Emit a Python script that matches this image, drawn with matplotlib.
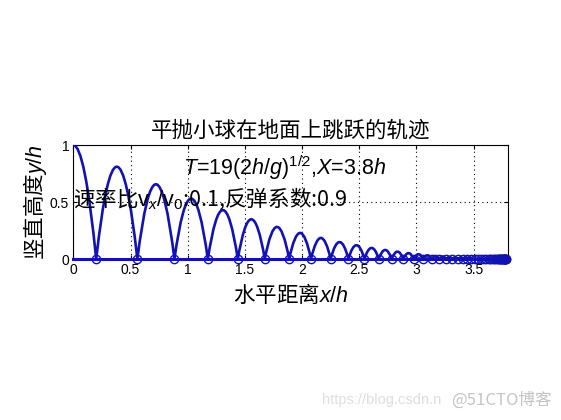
import matplotlib
matplotlib.use("Agg")
import matplotlib.pyplot as plt
from matplotlib.path import Path
from matplotlib.patches import PathPatch

# ---- data ----
start_height = 1.0
landing_x = [0.200, 0.560, 0.884, 1.176, 1.438, 1.674, 1.887, 2.078, 2.250, 2.405,
             2.545, 2.670, 2.783, 2.885, 2.976, 3.059, 3.133, 3.200, 3.260, 3.314,
             3.362, 3.406, 3.445, 3.481, 3.513, 3.542, 3.567, 3.591, 3.612, 3.630,
             3.647, 3.663, 3.676, 3.689, 3.700, 3.710, 3.719, 3.727, 3.734, 3.741,
             3.747, 3.752, 3.757, 3.761, 3.765, 3.769, 3.772, 3.775, 3.777, 3.779,
             3.781]
peak_heights = [0.810, 0.656, 0.531, 0.430, 0.349, 0.282, 0.229, 0.185, 0.150, 0.122,
                0.098, 0.080, 0.065, 0.052, 0.042, 0.034, 0.028, 0.023, 0.018, 0.015,
                0.012, 0.010, 0.008, 0.006, 0.005, 0.004, 0.003, 0.003, 0.002, 0.002]
x_ticks = [0, 0.5, 1, 1.5, 2, 2.5, 3, 3.5]
x_tick_labels = ["0", "0.5", "1", "1.5", "2", "2.5", "3", "3.5"]
y_ticks = [0, 0.5, 1]
y_tick_labels = ["0", "0.5", "1"]
x_max = 3.8

title = "平抛小球在地面上跳跃的轨迹"
xlabel = "水平距离$x/h$"
ylabel = "竖直高度$y/h$"
note1 = r"$T$=19(2$h$/$g$)$^{1/2}$,$X$=3.8$h$"
note2 = r"速率比$\mathrm{v}_{x}/\mathrm{v}_{0}$:0.1,反弹系数:0.9"

# ---- style ----
plt.rcParams['font.family'] = ['Liberation Sans', 'Noto Sans CJK SC', 'DejaVu Sans']
plt.rcParams['mathtext.fontset'] = 'custom'
plt.rcParams['mathtext.rm'] = 'Liberation Sans'
plt.rcParams['mathtext.it'] = 'Liberation Sans:italic'
plt.rcParams['mathtext.bf'] = 'Liberation Sans:bold'
cjk = ['Noto Sans CJK SC']

blue = '#1212b4'
fig = plt.figure(figsize=(5.61, 4.2), dpi=100)
ax = fig.add_axes([0.1307, 0.3833, 0.7748, 0.2714])

# first half-arc from the release point to the first landing
verts = [(0, start_height), (landing_x[0] / 2, start_height), (landing_x[0], 0)]
codes = [Path.MOVETO, Path.CURVE3, Path.CURVE3]
# bounce arcs: parabolas between consecutive landings (quadratic Bezier)
for i, h in enumerate(peak_heights):
    a, b = landing_x[i], landing_x[i + 1]
    verts += [((a + b) / 2, 2 * h), (b, 0)]
    codes += [Path.CURVE3, Path.CURVE3]
ax.add_patch(PathPatch(Path(verts, codes), fill=False, edgecolor=blue, lw=1.9,
                       joinstyle='round', capstyle='round', zorder=3))

# ground line with circle markers at landing points
ax.plot([0] + landing_x + [x_max], [0] * (len(landing_x) + 2), color=blue, lw=2.2,
        zorder=3, clip_on=False)
ax.plot(landing_x, [0] * len(landing_x), linestyle='none', marker='o', ms=6,
        mfc='none', mec=blue, mew=1.0, zorder=4, clip_on=False)

ax.set_xlim(0, x_max)
ax.set_ylim(0, 1)
ax.set_xticks(x_ticks)
ax.set_xticklabels(x_tick_labels)
ax.set_yticks(y_ticks)
ax.set_yticklabels(y_tick_labels)
ax.tick_params(direction='in', top=True, right=True, length=3, labelsize=10, pad=3)
ax.grid(True, linestyle=(0, (1, 3)), color='black', lw=0.8)
for s in ax.spines.values():
    s.set_linewidth(0.8)

ax.set_title(title, fontsize=15.5, pad=6, family=cjk)
ax.set_xlabel(xlabel, fontsize=15.5, labelpad=4, family=cjk)
ax.set_ylabel(ylabel, fontsize=15.5, labelpad=1, family=cjk)

ax.text(0.96, 0.80, note1, fontsize=15.5, va='center', ha='left')
ax.text(0.0, 0.53, note2, fontsize=15.5, va='center', ha='left', family=cjk)

# watermark
fig.text(322 / 561, 1 - 400 / 420, "https://blog.csdn.n", fontsize=10.5,
         color='#dedede', va='center', ha='left')
fig.text(552 / 561, 1 - 400 / 420, "@51CTO博客", fontsize=12, color='#c4c4c4',
         va='center', ha='right', family=cjk)

fig.savefig("out.png", dpi=100)
